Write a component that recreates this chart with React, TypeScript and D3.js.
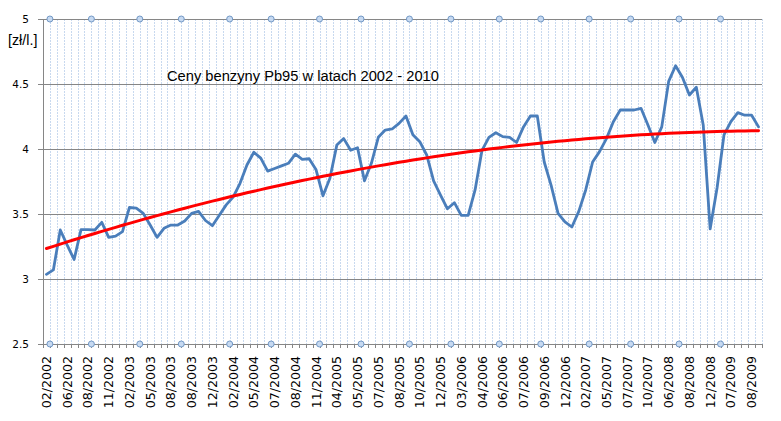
import React from "react";
import * as d3 from "d3";

const title = "Ceny benzyny Pb95 w latach 2002 - 2010";
const unitLabel = "[zł/l.]";

const prices = [
  3.036, 3.07, 3.377, 3.26, 3.15, 3.38, 3.38, 3.377, 3.436, 3.32,
  3.33, 3.364, 3.55, 3.545, 3.505, 3.415, 3.32, 3.39, 3.415, 3.415,
  3.446, 3.505, 3.52, 3.45, 3.41, 3.49, 3.57, 3.63, 3.736, 3.877,
  3.975, 3.93, 3.83, 3.85, 3.87, 3.89, 3.96, 3.92, 3.925, 3.84,
  3.64, 3.775, 4.03, 4.08, 3.99, 4.01, 3.755, 3.89, 4.09, 4.146,
  4.154, 4.197, 4.254, 4.11, 4.056, 3.954, 3.754, 3.646, 3.54, 3.587,
  3.49, 3.49, 3.685, 3.99, 4.09, 4.125, 4.095, 4.09, 4.05, 4.17,
  4.254, 4.254, 3.9, 3.72, 3.505, 3.44, 3.4, 3.52, 3.685, 3.9,
  3.98, 4.08, 4.21, 4.3, 4.3, 4.3, 4.313, 4.185, 4.05, 4.17,
  4.52, 4.64, 4.55, 4.415, 4.475, 4.185, 3.385, 3.7, 4.108, 4.21,
  4.28, 4.26, 4.26, 4.17,
];

const tickLabels = [
  "02/2002", "06/2002", "08/2002", "11/2002", "02/2003", "05/2003", "08/2003",
  "08/2003", "12/2003", "02/2004", "05/2004", "07/2004", "08/2004", "11/2004",
  "04/2005", "05/2005", "07/2005", "08/2005", "10/2005", "12/2005", "03/2006",
  "04/2006", "06/2006", "07/2006", "09/2006", "12/2006", "02/2007", "05/2007",
  "07/2007", "10/2007", "06/2008", "08/2008", "12/2008", "07/2009", "08/2009",
];
const labelStep = 3;

const yTicks = [2.5, 3, 3.5, 4, 4.5, 5];
const yTickText = ["2.5", "3", "3.5", "4", "4.5", "5"];

// category boundaries where the small circle markers sit (top and bottom)
const markerBoundaries = [1, 7, 14, 20, 27, 33, 40, 46, 53, 59, 66, 72, 79, 85, 92, 98];

// quadratic least-squares trend of the price series
function quadFit(vals: number[]) {
  let s0 = 0, s1 = 0, s2 = 0, s3 = 0, s4 = 0, t0 = 0, t1 = 0, t2 = 0;
  vals.forEach((v, i) => {
    const x = i + 1;
    s0 += 1; s1 += x; s2 += x * x; s3 += x * x * x; s4 += x * x * x * x;
    t0 += v; t1 += v * x; t2 += v * x * x;
  });
  const M = [
    [s0, s1, s2, t0],
    [s1, s2, s3, t1],
    [s2, s3, s4, t2],
  ];
  for (let c = 0; c < 3; c++) {
    for (let r = c + 1; r < 3; r++) {
      const f = M[r][c] / M[c][c];
      for (let k = c; k < 4; k++) M[r][k] -= f * M[c][k];
    }
  }
  const coef = [0, 0, 0];
  for (let r = 2; r >= 0; r--) {
    let s = M[r][3];
    for (let k = r + 1; k < 3; k++) s -= M[r][k] * coef[k];
    coef[r] = s / M[r][r];
  }
  return vals.map((_, i) => coef[0] + coef[1] * (i + 1) + coef[2] * (i + 1) * (i + 1));
}

export default function App() {
  const W = 781, H = 421;
  const left = 43, right = 762, top = 19, bottom = 344;
  const n = prices.length;
  const x = d3.scaleBand<number>().domain(d3.range(n)).range([left, right]).paddingInner(0).paddingOuter(0);
  const bw = x.bandwidth();
  const cx = (i: number) => (x(i) as number) + bw / 2;
  const y = d3.scaleLinear().domain([2.5, 5]).range([bottom, top]);
  const trend = quadFit(prices);
  const line = d3.line<number>().x((_, i) => cx(i)).y((d) => y(d));

  const boundaries = d3.range(1, n + 1).map((k) => left + k * bw);

  return (
    <svg width={W} height={H} style={{ position: "absolute", left: 0, top: 0, background: "#fff" }}>
      {/* vertical dotted gridlines */}
      {boundaries.map((bx, i) => (
        <line key={"vg" + i} x1={Math.round(bx) + 0.5} x2={Math.round(bx) + 0.5} y1={top} y2={bottom} stroke="#c8d9ef" strokeWidth={1} strokeDasharray="2,1" />
      ))}
      {/* horizontal gridlines */}
      {yTicks.map((t, i) => (
        <line key={"hg" + i} x1={left} x2={right} y1={Math.round(y(t)) + 0.5} y2={Math.round(y(t)) + 0.5} stroke="#868686" strokeWidth={1} />
      ))}
      {/* y axis */}
      <line x1={left + 0.5} x2={left + 0.5} y1={top} y2={bottom + 4} stroke="#868686" strokeWidth={1} />
      {yTicks.map((t, i) => (
        <g key={"yt" + i}>
          <line x1={left - 5} x2={left} y1={Math.round(y(t)) + 0.5} y2={Math.round(y(t)) + 0.5} stroke="#868686" />
          <text x={29} y={y(t)} dy="0.36em" textAnchor="end" fontFamily="DejaVu Sans, Verdana, sans-serif" fontSize={10.5} fill="#000">
            {yTickText[i]}
          </text>
        </g>
      ))}
      {/* x axis ticks */}
      {[left, ...boundaries].map((bx, i) => (
        <line key={"xt" + i} x1={Math.round(bx) + 0.5} x2={Math.round(bx) + 0.5} y1={bottom} y2={bottom + 4} stroke="#868686" />
      ))}
      {/* x labels */}
      {tickLabels.map((lab, j) => {
        const px = cx(j * labelStep);
        return (
          <text key={"xl" + j} transform={`translate(${px},356) rotate(-90)`} textAnchor="end" dy="0.36em"
            fontFamily="DejaVu Sans, Verdana, sans-serif" fontSize={12.6} fill="#000">
            {lab}
          </text>
        );
      })}
      {/* unit label */}
      <text x={8} y={44.5} fontFamily="Liberation Sans, Arial, sans-serif" fontSize={14.3} fill="#000">{unitLabel}</text>
      {/* title */}
      <text x={167} y={80.5} fontFamily="Liberation Sans, Arial, sans-serif" fontSize={14.7} fill="#000">{title}</text>
      {/* price line */}
      <path d={line(prices) || ""} fill="none" stroke="#4a7ebb" strokeWidth={2.8} strokeLinejoin="round" strokeLinecap="round" />
      {/* trend line */}
      <path d={line(trend) || ""} fill="none" stroke="#ff0000" strokeWidth={3} strokeLinejoin="round" strokeLinecap="round" />
      {/* circle markers */}
      {markerBoundaries.map((k, i) => (
        <g key={"m" + i}>
          <circle cx={left + k * bw} cy={y(5)} r={3} fill="#c6d9f1" stroke="#7399c6" strokeWidth={1} />
          <circle cx={left + k * bw} cy={y(2.5)} r={3} fill="#c6d9f1" stroke="#7399c6" strokeWidth={1} />
        </g>
      ))}
    </svg>
  );
}
